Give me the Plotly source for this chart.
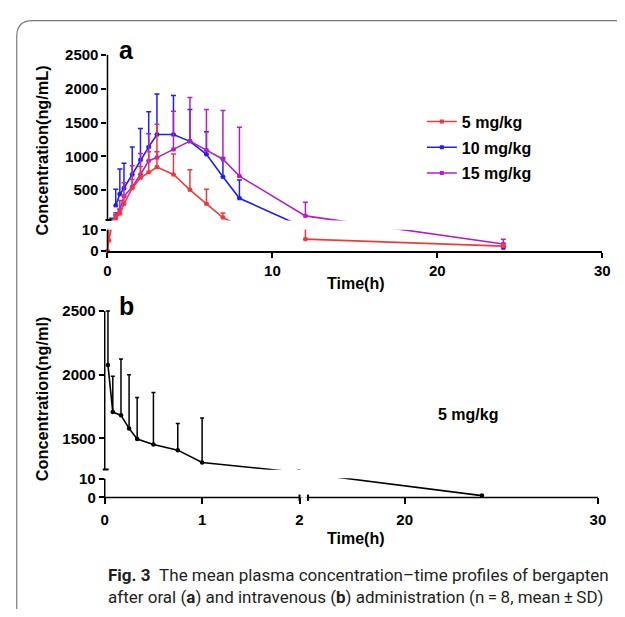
import plotly.graph_objects as go

W, H = 625, 617

# ---------------- data: panel a (oral) ----------------
t_red = [0, 0.083, 0.25, 0.5, 0.75, 1, 1.5, 2, 2.5, 3, 4, 5, 6, 7, 8, 12, 24]
c_red = [0, 5, 25, 80, 154, 298, 529, 683, 764, 841, 731, 505, 298, 96, 30, 5.6, 2.3]
sd_red = [0, 8, 30, 60, 72, 120, 130, 168, 303, 635, 303, 298, 216, 67, 20, 20, 1]

t_blue = [0.25, 0.5, 0.75, 1, 1.5, 2, 2.5, 3, 4, 5, 6, 7, 8, 12, 24]
c_blue = [45, 275, 442, 529, 731, 947, 1139, 1322, 1322, 1221, 1029, 697, 380, 20, 1.5]
sd_blue = [40, 239, 370, 370, 408, 466, 520, 601, 577, 471, 336, 284, 269, 20, 0.5]

t_mag = [0.25, 0.5, 0.75, 1, 1.5, 2, 2.5, 3, 4, 5, 6, 7, 8, 12, 24]
c_mag = [30, 125, 212, 409, 548, 731, 933, 981, 1101, 1226, 1091, 957, 707, 120, 3.3]
sd_mag = [30, 40, 134, 201, 312, 312, 399, 86, 567, 644, 601, 721, 721, 202, 2.3]

series_names = ["5 mg/kg", "10 mg/kg", "15 mg/kg"]
series_colors = ["#F03A3A", "#1E1EF5", "#B41EC8"]

a_yticks = [0, 10, 500, 1000, 1500, 2000, 2500]
a_xticks = [0, 10, 20, 30]

# ---------------- data: panel b (intravenous) ----------------
t_iv = [0.033, 0.083, 0.167, 0.25, 0.333, 0.5, 0.75, 1, 2, 24]
c_iv = [2077, 1706, 1681, 1578, 1494, 1451, 1407, 1310, 850, 1.0]
sd_iv = [423, 282, 442, 422, 327, 409, 210, 350, 300, 0.5]

b_yticks = [0, 10, 1500, 2000, 2500]
b_xticks = [0, 1, 2, 20, 30]

# ---------------- broken-axis scales ----------------
A_GAP = (10, 59)
B_GAP = (10, 1255)

def fa(v):
    if v <= 10:
        return v * 2.15
    if v <= 59:
        return 21.5 + (v - 10) / 49 * 10.2
    return 31.7 + (v - 59) * (34.67 / 500)

def fb(v):
    if v <= 10:
        return v * 1.94
    if v <= 1255:
        return 19.4 + (v - 10) / 1245 * 9.3
    return 28.7 + (v - 1255) * (65.2 / 500)

def gb(t):
    if t <= 2:
        return t * 99.3
    if t <= 15:
        return 198.6 + (t - 2) / 13 * 8.7
    return 207.3 + (t - 15) * 19.7

# layout geometry (pixels)
A_X0, A_X1, A_Y0, A_UTOP = 105.5, 610.0, 250.0, 204.0
B_X0, B_GMAX, B_Y0, B_UTOP = 102.7, 502.8, 502.7, 193.0

def px(x):
    return x / W

def py(y):
    return 1 - y / H

def build(t, c, s, f, gap):
    """Scale a series; a line leaving a value hidden inside the axis break is not drawn."""
    xs, ys, es = [], [], []
    for i, (ti, ci, si) in enumerate(zip(t, c, s)):
        xs.append(ti)
        ys.append(f(ci))
        es.append(f(ci + si) - f(ci))
        if gap[0] < ci < gap[1] and i < len(t) - 1:
            xs.append(ti)
            ys.append(None)
            es.append(0)
    return xs, ys, es

fig = go.Figure()

font_b = dict(family="Liberation Sans, Arial", size=15, color="black", weight="bold")

order = [1, 2, 0]  # draw blue, magenta, red (red on top)
data_a = [(t_red, c_red, sd_red), (t_blue, c_blue, sd_blue), (t_mag, c_mag, sd_mag)]
for i in order:
    t, c, s = data_a[i]
    xs, ys, es = build(t, c, s, fa, A_GAP)
    fig.add_trace(go.Scatter(
        x=xs, y=ys, mode="lines+markers", name=series_names[i],
        legendgroup=series_names[i], legendrank=i + 1, connectgaps=False,
        line=dict(color=series_colors[i], width=1.6),
        marker=dict(symbol="square", size=4, color=series_colors[i]),
        error_y=dict(type="data", array=es, arrayminus=[0] * len(es), symmetric=False,
                     color=series_colors[i], thickness=1.5, width=2.5),
        cliponaxis=False, xaxis="x", yaxis="y",
    ))

ub = [fb(v) for v in c_iv]
eub = [fb(v + e) - fb(v) for v, e in zip(c_iv, sd_iv)]
fig.add_trace(go.Scatter(
    x=[gb(t) for t in t_iv], y=ub, mode="lines+markers", showlegend=False,
    line=dict(color="black", width=1.6),
    marker=dict(symbol="circle", size=4.5, color="black"),
    error_y=dict(type="data", array=eub, arrayminus=[0] * len(eub), symmetric=False,
                 color="black", thickness=1.5, width=2),
    cliponaxis=False, xaxis="x2", yaxis="y2",
))

shapes = []
shapes.append(dict(type="path", xref="paper", yref="paper",
                   path=f"M {px(13)} {py(617)} L {px(13)} {py(30)} Q {px(13)} {py(14)} {px(29)} {py(14)} L {px(625)} {py(14)}",
                   line=dict(color="#7a7a7a", width=1.2), layer="above"))

def rect(x0, y0, x1, y1):
    shapes.append(dict(type="rect", xref="paper", yref="paper", x0=px(x0), x1=px(x1),
                       y0=py(y0), y1=py(y1), fillcolor="white", line=dict(width=0), layer="above"))

def seg(x0, y0, x1, y1, w=1.5, color="black", dash="solid"):
    shapes.append(dict(type="line", xref="paper", yref="paper", x0=px(x0), x1=px(x1),
                       y0=py(y0), y1=py(y1), line=dict(color=color, width=w, dash=dash), layer="above"))

# panel a gap mask and y-axis segments
a_up = A_Y0 - fa(A_GAP[1])
a_lo = A_Y0 - fa(A_GAP[0])
rect(A_X0 + 0.8, a_up + 0.4, 612, a_lo - 0.3)
seg(A_X0, A_Y0 - fa(2500), A_X0, a_up)
seg(A_X0, a_lo, A_X0, A_Y0 + 0.7)
seg(A_X0 - 2, a_up, A_X0 + 4, a_up, w=2)

# panel b masks and axes
b_up = B_Y0 - fb(B_GAP[1])
b_lo = B_Y0 - fb(B_GAP[0])
bx_l = B_X0 + gb(2)
bx_r = B_X0 + gb(15)
rect(B_X0 + 0.8, b_up + 0.4, 612, b_lo - 0.3)
rect(bx_l + 0.8, 300, bx_r - 0.8, B_Y0 - 0.8)
seg(B_X0, B_Y0 - fb(2500), B_X0, b_up)
seg(B_X0, b_lo, B_X0, B_Y0 + 0.7)
seg(B_X0 - 2, b_up, B_X0 + 4, b_up, w=2)
seg(B_X0 - 0.7, B_Y0, bx_l, B_Y0)
seg(bx_r, B_Y0, B_X0 + B_GMAX, B_Y0)
seg(bx_l, B_Y0, bx_r, B_Y0, w=1, color="#999999", dash="dot")
seg(bx_l, B_Y0 - 3, bx_l, B_Y0 + 3.5, w=2)
seg(bx_r, B_Y0 - 3, bx_r, B_Y0 + 3.5, w=2)

fig.update_layout(
    width=W, height=H, margin=dict(l=0, r=0, t=0, b=0),
    paper_bgcolor="white", plot_bgcolor="rgba(0,0,0,0)",
    shapes=shapes,
    showlegend=True,
    legend=dict(x=px(426), y=py(100), xanchor="left", yanchor="top",
                font=dict(family="Liberation Sans, Arial", size=16, color="black", weight="bold"),
                bgcolor="rgba(0,0,0,0)", tracegroupgap=2, itemwidth=30),
    xaxis=dict(domain=[px(A_X0), px(A_X1)], range=[0, 30], anchor="y",
               showgrid=False, zeroline=False, showline=True, linecolor="black", linewidth=1.5,
               ticks="outside", ticklen=5, tickwidth=1.5, tickcolor="black",
               tickvals=a_xticks, ticktext=[str(v) for v in a_xticks], tickfont=font_b),
    yaxis=dict(domain=[py(A_Y0), py(A_Y0 - A_UTOP)], range=[0, A_UTOP], anchor="x",
               showgrid=False, zeroline=False, showline=False,
               ticks="outside", ticklen=5, tickwidth=1.5, tickcolor="black",
               tickvals=[fa(v) for v in a_yticks], ticktext=[str(v) for v in a_yticks],
               tickfont=font_b),
    xaxis2=dict(domain=[px(B_X0), px(B_X0 + B_GMAX)], range=[0, B_GMAX], anchor="y2",
                showgrid=False, zeroline=False, showline=False,
                ticks="outside", ticklen=6, tickwidth=1.5, tickcolor="black",
                ticklabelstandoff=3,
                tickvals=[gb(v) for v in b_xticks], ticktext=[str(v) for v in b_xticks],
                tickfont=font_b),
    yaxis2=dict(domain=[py(B_Y0), py(B_Y0 - B_UTOP)], range=[0, B_UTOP], anchor="x2",
                showgrid=False, zeroline=False, showline=False,
                ticks="outside", ticklen=5, tickwidth=1.5, tickcolor="black",
                tickvals=[fb(v) for v in b_yticks], ticktext=[str(v) for v in b_yticks],
                tickfont=font_b),
)

def ann(text, x, y, size, angle=0, xanchor="center", family="Liberation Sans, Arial",
        weight="bold", color="black"):
    fig.add_annotation(text=text, x=px(x), y=py(y), xref="paper", yref="paper",
                       showarrow=False, xanchor=xanchor, yanchor="middle", textangle=angle,
                       font=dict(family=family, size=size, color=color, weight=weight))

ann("a", 125, 44, 25)
ann("b", 125, 306, 25)
ann("Time(h)", 358, 283.5, 16)
ann("Time(h)", 358, 545, 16)
ann("Concentration(ng/mL)", 39, 146.7, 16.3, angle=-90)
ann("Concentration(ng/ml)", 39, 401.7, 16.3, angle=-90)
ann("5 mg/kg", 473.5, 418, 16)
ann("<b>Fig. 3</b>\u2002The mean plasma concentration\u2013time profiles of bergapten",
    104, 582, 17, xanchor="left", family="Roboto", weight="normal", color="#231F20")
ann("after oral (<b>a</b>) and intravenous (<b>b</b>) administration (n\u2009=\u20098, mean\u2009\u00b1\u2009SD)",
    104, 605, 17, xanchor="left", family="Roboto", weight="normal", color="#231F20")

fig.write_html("out.html", config={"displayModeBar": False},
               post_script="document.body.style.margin='0';document.body.style.overflow='hidden';")
